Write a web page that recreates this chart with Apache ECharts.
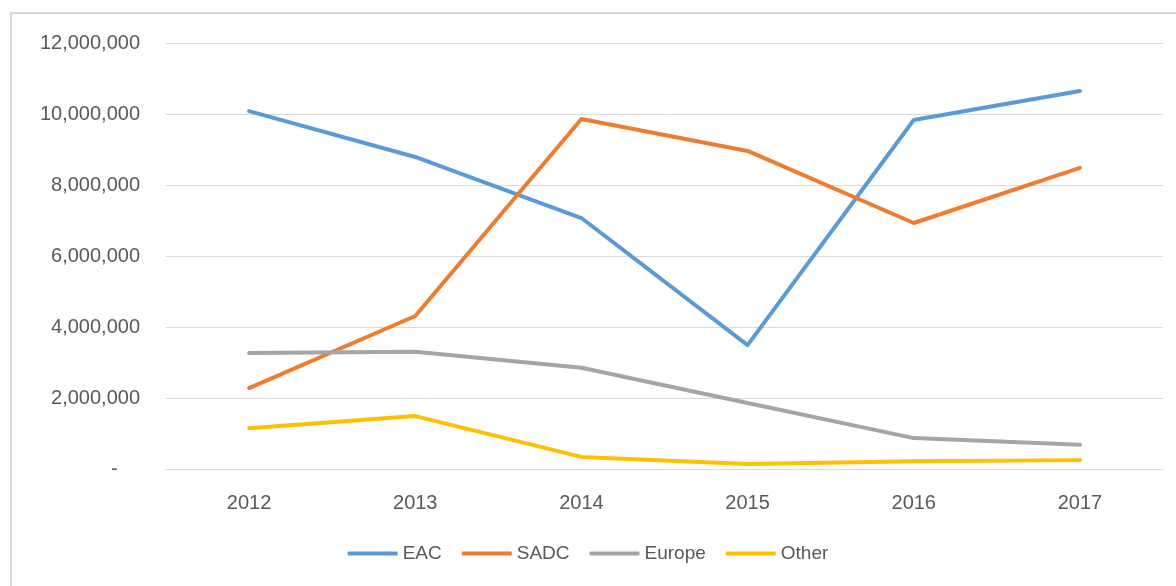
<!DOCTYPE html>
<html>
<head>
<meta charset="utf-8">
<script src="https://cdn.jsdelivr.net/npm/echarts@6/dist/echarts.min.js"></script>
<style>
html,body{margin:0;padding:0;background:#fff;}
#main{width:1176px;height:586px;}
</style>
</head>
<body>
<div id="main"></div>
<script>
const categories = ['2012', '2013', '2014', '2015', '2016', '2017'];
const eac = [10080000, 8790000, 7070000, 3490000, 9830000, 10650000];
const sadc = [2280000, 4310000, 9860000, 8960000, 6930000, 8480000];
const europe = [3270000, 3300000, 2850000, 1860000, 870000, 680000];
const other = [1150000, 1490000, 340000, 140000, 220000, 250000];
const seriesNames = ['EAC', 'SADC', 'Europe', 'Other'];
const colors = ['#5B9BD5', '#ED7D31', '#A5A5A5', '#FFC000'];

const chart = echarts.init(document.getElementById('main'));
const font = '"Liberation Sans", Arial, sans-serif';
const dataSets = [eac, sadc, europe, other];
chart.setOption({
  animation: false,
  color: colors,
  graphic: [{
    type: 'rect',
    shape: {x: 11, y: 13, width: 1200, height: 620},
    style: {fill: 'none', stroke: '#d9d9d9', lineWidth: 2},
    silent: true
  }],
  grid: {left: 166, right: 13, top: 43, bottom: 117, containLabel: false},
  legend: {
    bottom: 18,
    left: 'center',
    itemWidth: 50,
    itemHeight: 4,
    itemGap: 20,
    icon: 'roundRect',
    textStyle: {color: '#595959', fontSize: 19, fontFamily: font},
    data: seriesNames
  },
  xAxis: {
    type: 'category',
    data: categories,
    boundaryGap: true,
    axisLine: {show: true, lineStyle: {color: '#d9d9d9', width: 1}},
    axisTick: {show: false},
    axisLabel: {color: '#595959', fontSize: 20, fontFamily: font, margin: 24}
  },
  yAxis: {
    type: 'value',
    min: 0,
    max: 12000000,
    interval: 2000000,
    axisLine: {show: false},
    axisTick: {show: false},
    splitLine: {lineStyle: {color: '#d9d9d9', width: 1}},
    axisLabel: {
      color: '#595959', fontSize: 20, fontFamily: font, margin: 26,
      formatter: function (v) { return v === 0 ? '-    ' : v.toLocaleString('en-US'); }
    }
  },
  series: seriesNames.map((n, i) => ({
    name: n,
    type: 'line',
    data: dataSets[i],
    symbol: 'none',
    lineStyle: {width: 4, color: colors[i], cap: 'round', join: 'round'},
    itemStyle: {color: colors[i]}
  }))
});
</script>
</body>
</html>
